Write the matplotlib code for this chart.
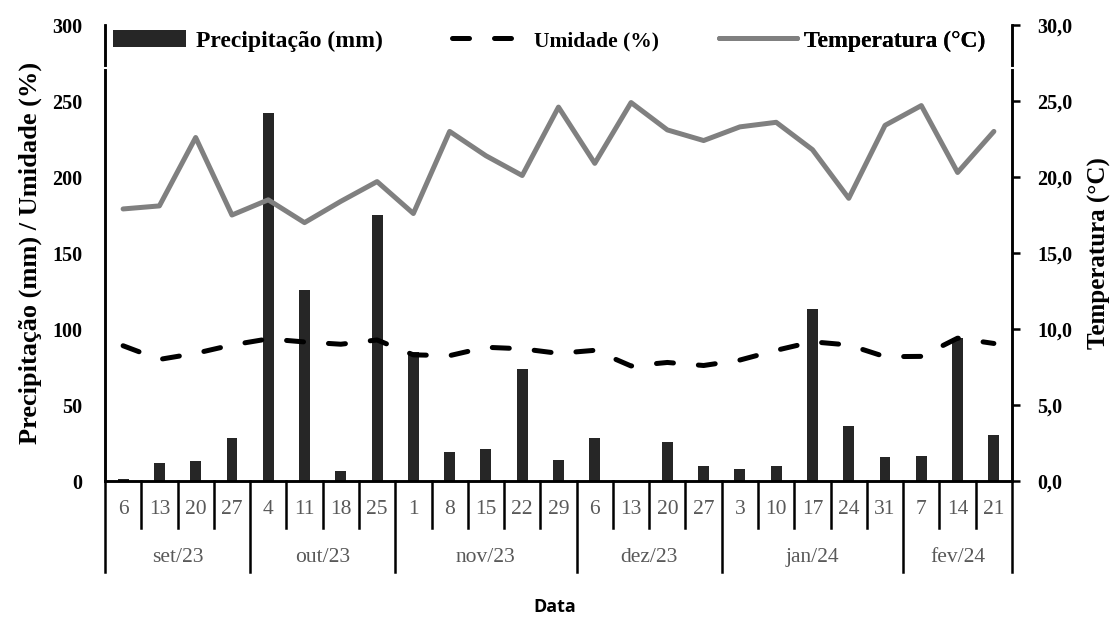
import numpy as np
import matplotlib.pyplot as plt
from matplotlib.transforms import blended_transform_factory

# dados semanais
dias = ['6', '13', '20', '27', '4', '11', '18', '25', '1', '8', '15', '22', '29',
        '6', '13', '20', '27', '3', '10', '17', '24', '31', '7', '14', '21']
meses = ['set/23', 'out/23', 'nov/23', 'dez/23', 'jan/24', 'fev/24']
semanas_mes = [4, 4, 5, 4, 5, 3]

precipitacao = [1.5, 12, 13, 28, 242, 126, 6.5, 175, 85, 19, 21, 74, 14,
                28, 0, 25.5, 10, 8, 10, 113, 36, 15.5, 16.5, 94, 30]
umidade = [89, 80, 84, 89.5, 93.5, 91.5, 90, 92.8, 83, 82.5, 88, 87, 84,
           86, 75.7, 78, 76, 79.6, 86, 91.6, 89.5, 81.8, 82, 94, 90.5]
temperatura = [17.9, 18.1, 22.6, 17.5, 18.5, 17.0, 18.4, 19.7, 17.6, 23.0, 21.4, 20.1, 24.6,
               20.9, 24.9, 23.1, 22.4, 23.3, 23.6, 21.8, 18.6, 23.4, 24.7, 20.3, 23.0]

plt.rcParams['font.family'] = 'Liberation Serif'

fig = plt.figure(figsize=(11.19, 6.21), dpi=100)
ax = fig.add_axes([0.0938, 0.2254, 0.8106, 0.7343])
x = np.arange(len(dias))

barras = ax.bar(x, precipitacao, width=0.3, color='#262626', zorder=2)
linha_umid, = ax.plot(x, umidade, color='black', lw=3.6, linestyle=(0, (3.4, 5.0)),
                      dash_capstyle='round', zorder=3)
ax.set_xlim(-0.5, len(dias) - 0.5)
ax.set_ylim(0, 300)
ax.set_yticks(range(0, 301, 50), labels=[str(v) for v in range(0, 301, 50)],
              fontweight='bold', fontsize=14.5)
ax.tick_params(axis='y', length=0, pad=16)
ax.set_xticks([])

ax2 = ax.twinx()
linha_temp, = ax2.plot(x, temperatura, color='#808080', lw=3.6, solid_capstyle='round',
                       zorder=4)
ax2.set_ylim(0, 30)
tt = np.arange(0, 31, 5)
ax2.set_yticks(tt, labels=[f'{v:.1f}'.replace('.', ',') for v in tt],
               fontweight='bold', fontsize=14.5)
ax2.tick_params(axis='y', direction='out', length=6, width=1.8, pad=12)

for a in (ax, ax2):
    a.spines['top'].set_visible(False)
    for s in ('left', 'right', 'bottom'):
        a.spines[s].set_linewidth(1.8)

ax.set_ylabel('Precipitação (mm) / Umidade (%)', fontsize=19, fontweight='bold')
ax.yaxis.set_label_coords(-0.069, 0.5)
ax2.set_ylabel('Temperatura (°C)', fontsize=18, fontweight='bold')
ax2.yaxis.set_label_coords(1.084, 0.5)

# rotulos do eixo x em dois niveis
trans = blended_transform_factory(ax.transData, ax.transAxes)
for i, d in enumerate(dias):
    ax.text(i, -0.062, d, transform=trans, ha='center', va='center',
            fontsize=15.5, color='#595959')

limites = np.concatenate([[0], np.cumsum(semanas_mes)])
for j, m in enumerate(meses):
    centro = (limites[j] + limites[j + 1] - 1) / 2
    ax.text(centro, -0.167, m, transform=trans, ha='center', va='center',
            fontsize=15.5, color='#595959')

for b in range(len(dias) + 1):
    y_fim = -0.2 if b in limites else -0.103
    ax.plot([b - 0.5, b - 0.5], [0, y_fim], transform=trans, color='black',
            lw=1.8, clip_on=False)

fig.text(0.496, 0.0225, 'Data', fontfamily='Open Sans', fontweight='bold',
         fontsize=13, ha='center', va='center')

# pequena quebra nos eixos sob a legenda
ax2.plot([-0.01, 1.01], [0.906, 0.906], transform=ax2.transAxes, color='white',
         lw=1.5, clip_on=False, zorder=10)

# legenda: uma entrada por vez para acertar posicoes
itens = [
    (barras, 'Precipitação (mm)', 0.0088, 17, 3.1, 0.4),
    (linha_umid, 'Umidade (%)', 0.3826, 15.5, 3.4, 0.4),
    (linha_temp, 'Temperatura (°C)', 0.677, 17, 3.3, 0.3),
]
for h, txt, x0, fs, hl, tp in itens:
    leg = ax2.legend([h], [txt], loc='center left', bbox_to_anchor=(x0, 0.965),
                     frameon=False, prop={'weight': 'bold', 'size': fs},
                     handlelength=hl, handletextpad=tp, borderpad=0, borderaxespad=0)
    ax2.add_artist(leg)

fig.savefig('out.png', dpi=100)
